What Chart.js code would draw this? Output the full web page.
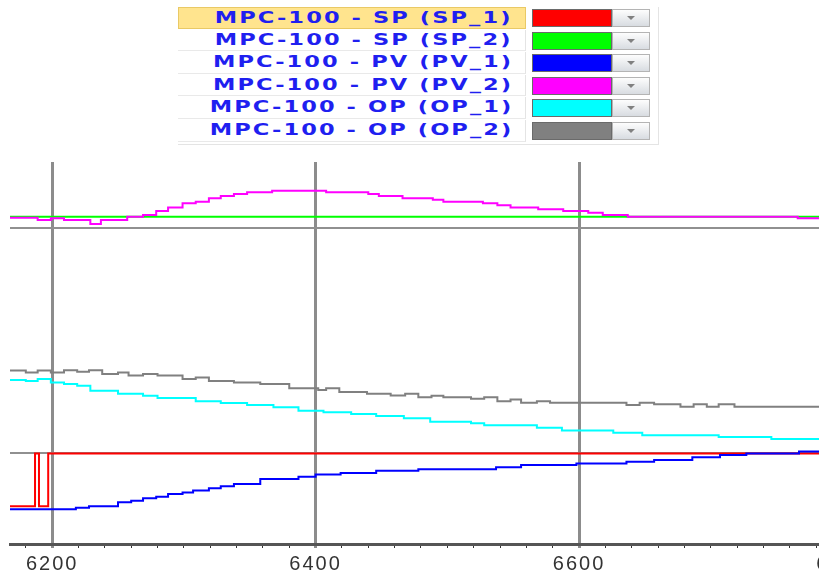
<!DOCTYPE html>
<html>
<head>
<meta charset="utf-8">
<script src="https://cdn.jsdelivr.net/npm/chart.js@4.4.1/dist/chart.umd.min.js"></script>
<style>
  html, body { margin: 0; padding: 0; width: 819px; height: 571px; overflow: hidden; background: #fff; }
  #chart { position: absolute; left: 0; top: 0; }
  #legend { position: absolute; left: 178px; top: 7px; width: 480px; height: 137px;
            border-right: 1px solid #e4e4e4; border-bottom: 1px solid #e4e4e4; }
  .row { position: absolute; left: 0; width: 480px; height: 22.6px; }
  .name { position: absolute; left: 0; top: 0; width: 348px; height: 21.6px; box-sizing: border-box;
          border-bottom: 1px solid #e9e9e9; border-right: 1px solid #e4e4e4; }
  .name.sel { background: #ffe48e; border: 1px solid #e9c965; }
  .name span { position: absolute; right: 12px; top: 1px; white-space: nowrap;
               font: bold 15px "DejaVu Sans", sans-serif; letter-spacing: 1.4px; color: #1f1ff0;
               transform: scaleX(1.5); transform-origin: right center; }
  .swatch { position: absolute; left: 354px; top: 2px; width: 80px; height: 18px; box-sizing: border-box;
            border: 1px solid #6a6a6a; }
  .btn { position: absolute; left: 434px; top: 2px; width: 38px; height: 18px; box-sizing: border-box;
         border: 1px solid #b4b4b4; background: linear-gradient(#fdfdfd, #d8dce1); }
  .btn::after { content: ""; position: absolute; left: 14px; top: 6px; border-left: 4px solid transparent;
                border-right: 4px solid transparent; border-top: 4px solid #808080; }
</style>
</head>
<body>
<div id="legend"></div>
<canvas id="chart" width="890" height="580"></canvas>
<script>
"use strict";

const X_MIN = 6168;
const X_MAX = 6830;
const majorTicks = [6200, 6400, 6600, 6800];
const minorStep = 20;
const panelLines = [23.7, 82.6];

const legendLabels = [
  "MPC-100 - SP (SP_1)",
  "MPC-100 - SP (SP_2)",
  "MPC-100 - PV (PV_1)",
  "MPC-100 - PV (PV_2)",
  "MPC-100 - OP (OP_1)",
  "MPC-100 - OP (OP_2)"
];
const seriesColors = ["#ff0000", "#00ff00", "#0000ff", "#ff00ff", "#00ffff", "#808080"];

const sp1Time = [6168, 6187, 6190, 6197, 6830];
const sp1Value = [9.9, 23.7, 9.9, 23.7, 23.7];

const sp2Time = [6168, 6830];
const sp2Value = [85.7, 85.7];

const pv1Time = [6168, 6218, 6228, 6250, 6260, 6269, 6279, 6288, 6299, 6307, 6319, 6328, 6338, 6358, 6387,
  6400, 6419, 6446, 6478, 6537, 6556, 6598, 6636, 6657, 6686, 6707, 6727, 6767, 6830];
const pv1Value = [9.1, 9.5, 9.9, 10.9, 11.3, 12.0, 12.4, 13.1, 13.5, 14.0, 14.6, 15.1, 15.7, 17.0, 17.6,
  18.2, 18.6, 19.2, 19.6, 20.1, 20.7, 21.1, 21.5, 22.0, 22.7, 23.3, 23.7, 24.2, 24.2];

const pv2Time = [6168, 6189, 6199, 6209, 6229, 6237, 6257, 6269, 6279, 6288, 6299, 6309, 6319, 6328, 6338,
  6348, 6367, 6408, 6440, 6448, 6466, 6489, 6497, 6527, 6538, 6548, 6569, 6588, 6607, 6618, 6637, 6766, 6830];
const pv2Value = [85.4, 84.8, 85.3, 84.8, 83.8, 84.8, 85.7, 86.1, 87.2, 88.1, 89.2, 89.6, 90.5, 91.1, 91.6,
  92.1, 92.5, 92.1, 91.6, 91.1, 90.5, 90.1, 89.6, 89.2, 88.7, 88.1, 87.6, 87.2, 86.7, 86.1, 85.7, 85.3, 85.3];

const op1Time = [6168, 6180, 6189, 6199, 6209, 6219, 6229, 6250, 6269, 6280, 6309, 6328, 6348, 6368, 6387,
  6406, 6427, 6446, 6467, 6487, 6518, 6528, 6568, 6587, 6626, 6648, 6706, 6746, 6830];
const op1Value = [42.9, 42.7, 43.2, 42.3, 41.9, 41.4, 40.1, 39.3, 38.8, 38.2, 37.4, 36.9, 36.4, 35.8, 34.9,
  34.5, 34.0, 33.5, 32.9, 32.0, 31.6, 31.1, 30.4, 29.7, 29.1, 28.5, 28.0, 27.5, 27.5];

const op2Time = [6168, 6180, 6189, 6199, 6209, 6219, 6228, 6238, 6250, 6258, 6269, 6280, 6299, 6309, 6319,
  6338, 6358, 6380, 6402, 6408, 6418, 6439, 6457, 6468, 6478, 6488, 6497, 6518, 6528, 6538, 6548, 6556,
  6568, 6578, 6636, 6646, 6657, 6677, 6687, 6697, 6706, 6718, 6830];
const op2Value = [45.4, 44.9, 45.4, 44.9, 45.5, 45.1, 45.5, 44.5, 44.9, 44.1, 44.5, 44.1, 43.2, 43.6, 42.7,
  42.3, 41.9, 40.8, 40.3, 40.8, 39.8, 39.3, 38.9, 39.3, 38.4, 38.8, 38.4, 38.0, 38.4, 37.4, 37.8, 37.0,
  37.4, 37.0, 36.4, 37.0, 36.6, 35.9, 36.6, 35.9, 36.6, 35.9, 35.9];

function toPoints(xs, ys) {
  return xs.map((x, i) => ({ x: x, y: ys[i] }));
}

function buildLegend() {
  const legendEl = document.getElementById("legend");
  legendLabels.forEach((label, i) => {
    const row = document.createElement("div");
    row.className = "row";
    row.style.top = `${i * 22.6}px`;
    row.innerHTML = `
      <div class="name${i === 0 ? " sel" : ""}"><span>${label}</span></div>
      <div class="swatch" style="background:${seriesColors[i]}"></div>
      <div class="btn"></div>`;
    legendEl.appendChild(row);
  });
}

function isMajor(value) {
  return majorTicks.includes(Math.round(value));
}

// wider, spaced-out tick digits like the source screenshot
const spacedTickText = {
  id: "spacedTickText",
  beforeDraw: (chart) => { chart.ctx.letterSpacing = "2px"; },
  afterDraw: (chart) => { chart.ctx.letterSpacing = "0px"; }
};

function buildChart() {
  const xTicks = [];
  for (let v = Math.ceil(X_MIN / minorStep) * minorStep; v <= X_MAX; v += minorStep) xTicks.push(v);

  const series = [
    { label: legendLabels[0], time: sp1Time, value: sp1Value, order: 3 },
    { label: legendLabels[1], time: sp2Time, value: sp2Value, order: 3 },
    { label: legendLabels[2], time: pv1Time, value: pv1Value, order: 1 },
    { label: legendLabels[3], time: pv2Time, value: pv2Value, order: 1 },
    { label: legendLabels[4], time: op1Time, value: op1Value, order: 2 },
    { label: legendLabels[5], time: op2Time, value: op2Value, order: 2 }
  ];

  new Chart(document.getElementById("chart"), {
    type: "line",
    data: {
      datasets: series.map((s, i) => ({
        label: s.label,
        data: toPoints(s.time, s.value),
        borderColor: seriesColors[i],
        borderWidth: 2,
        stepped: true,
        pointRadius: 0,
        fill: false,
        order: s.order
      }))
    },
    options: {
      responsive: false,
      animation: false,
      devicePixelRatio: 1,
      layout: { padding: { top: 162, left: 10, right: 8, bottom: 0 } },
      plugins: { legend: { display: false }, tooltip: { enabled: false } },
      scales: {
        x: {
          type: "linear",
          min: X_MIN,
          max: X_MAX,
          afterBuildTicks: (scale) => { scale.ticks = xTicks.map((v) => ({ value: v })); },
          ticks: {
            autoSkip: false,
            maxRotation: 0,
            padding: 4,
            color: "#333",
            font: { family: "Liberation Sans", size: 20 },
            callback: (v) => (isMajor(v) ? String(Math.round(v)) : "")
          },
          grid: {
            tickLength: 4,
            color: (c) => (c.tick && isMajor(c.tick.value) ? "#8c8c8c" : "rgba(0,0,0,0)"),
            lineWidth: (c) => (c.tick && isMajor(c.tick.value) ? 3 : 1),
            tickColor: (c) => (c.tick && isMajor(c.tick.value) ? "#8c8c8c" : "#333"),
            tickWidth: (c) => (c.tick && isMajor(c.tick.value) ? 3 : 1)
          },
          border: { color: "#555", width: 3 }
        },
        y: {
          min: 0,
          max: 100,
          afterBuildTicks: (scale) => { scale.ticks = panelLines.map((v) => ({ value: v })); },
          ticks: { display: false },
          grid: { color: "#909090", lineWidth: 2, drawTicks: false },
          border: { display: false }
        }
      }
    },
    plugins: [spacedTickText]
  });
}

buildLegend();
buildChart();
</script>
</body>
</html>
